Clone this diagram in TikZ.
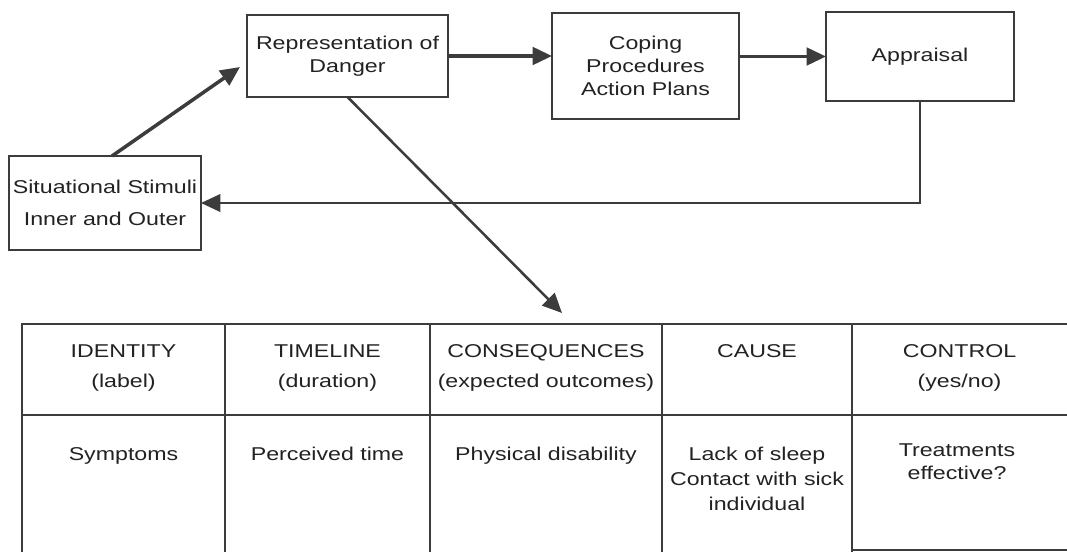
\documentclass[tikz,border=0pt]{standalone}
\usepackage{fontspec}
\setmainfont{Liberation Sans}[FakeStretch=1.25]
\usetikzlibrary{shapes,arrows.meta}
\definecolor{ink}{HTML}{3C3C3C}
\definecolor{txt}{HTML}{222222}
\tikzstyle{bx}=[draw=ink,line width=1pt,inner sep=0pt,outer sep=0pt,align=center,text=txt]
\tikzstyle{arr}=[draw=ink,line width=1.8pt,-{Triangle[length=10pt,width=9pt]}]
\tikzstyle{ln}=[draw=ink,line width=1pt]
\tikzstyle{tx}=[inner sep=0pt,anchor=north,align=center,text=txt]

\begin{document}
\begin{tikzpicture}[x=0.018cm,y=-0.018cm,font=\fontsize{9.5}{11.8}\selectfont]
\useasboundingbox (0,0) rectangle (1067,552);
\node[bx,minimum width=3.456cm,minimum height=1.692cm] (stim) at (105,203) {Situational Stimuli\\[4.6pt]Inner and Outer};
\node[bx,minimum width=3.618cm,minimum height=1.476cm] (rep) at (347.5,56) {Representation of\\Danger};
\node[bx,minimum width=3.366cm,minimum height=1.908cm] (cope) at (645.5,66) {Coping\\Procedures\\Action Plans};
\node[bx,minimum width=3.384cm,minimum height=1.602cm] (appr) at (920,56.5) {Appraisal};
\coordinate (tip1) at (240,67);
\coordinate (tip2) at (562,313);
\draw[arr] ([xshift=0.126cm]stim.north) -- (tip1);
\draw[arr] (rep.east) -- (rep.east -| cope.west);
\draw[arr] (appr.west -| cope.east) -- (appr.west);
\draw[arr,line width=1.3pt] (rep.south) -- (tip2);
\draw[arr,line width=1.3pt] (appr.south) |- (stim.east);
\draw[ln] (1067,324) -- (22,324) -- (22,552);
\draw[ln] (22,415) -- (1067,415);
\draw[ln] (225,324) -- (225,552);
\draw[ln] (430,324) -- (430,552);
\draw[ln] (662,324) -- (662,552);
\draw[ln] (852,324) -- (852,552);
\draw[ln] (852,550) -- (1067,550);
\node[tx] (hid) at (123.5,344) {IDENTITY\\[3.6pt](label)};
\node[tx] (htl) at (327.5,344) {TIMELINE\\[3.6pt](duration)};
\node[tx] (hcs) at (546,344) {CONSEQUENCES\\[3.6pt](expected outcomes)};
\node[tx] (hca) at (757,344) {CAUSE};
\node[tx] (hct) at (959.5,344) {CONTROL\\[3.6pt](yes/no)};
\node[tx] (cid) at (123.5,447) {Symptoms};
\node[tx] (ctl) at (327.5,447) {Perceived time};
\node[tx] (ccs) at (546,447) {Physical disability};
\node[tx] (cca) at (757,447) {Lack of sleep\\[1pt]Contact with sick\\[1pt]individual};
\node[tx] (cct) at (957,443) {Treatments\\effective?};
\end{tikzpicture}
\end{document}
